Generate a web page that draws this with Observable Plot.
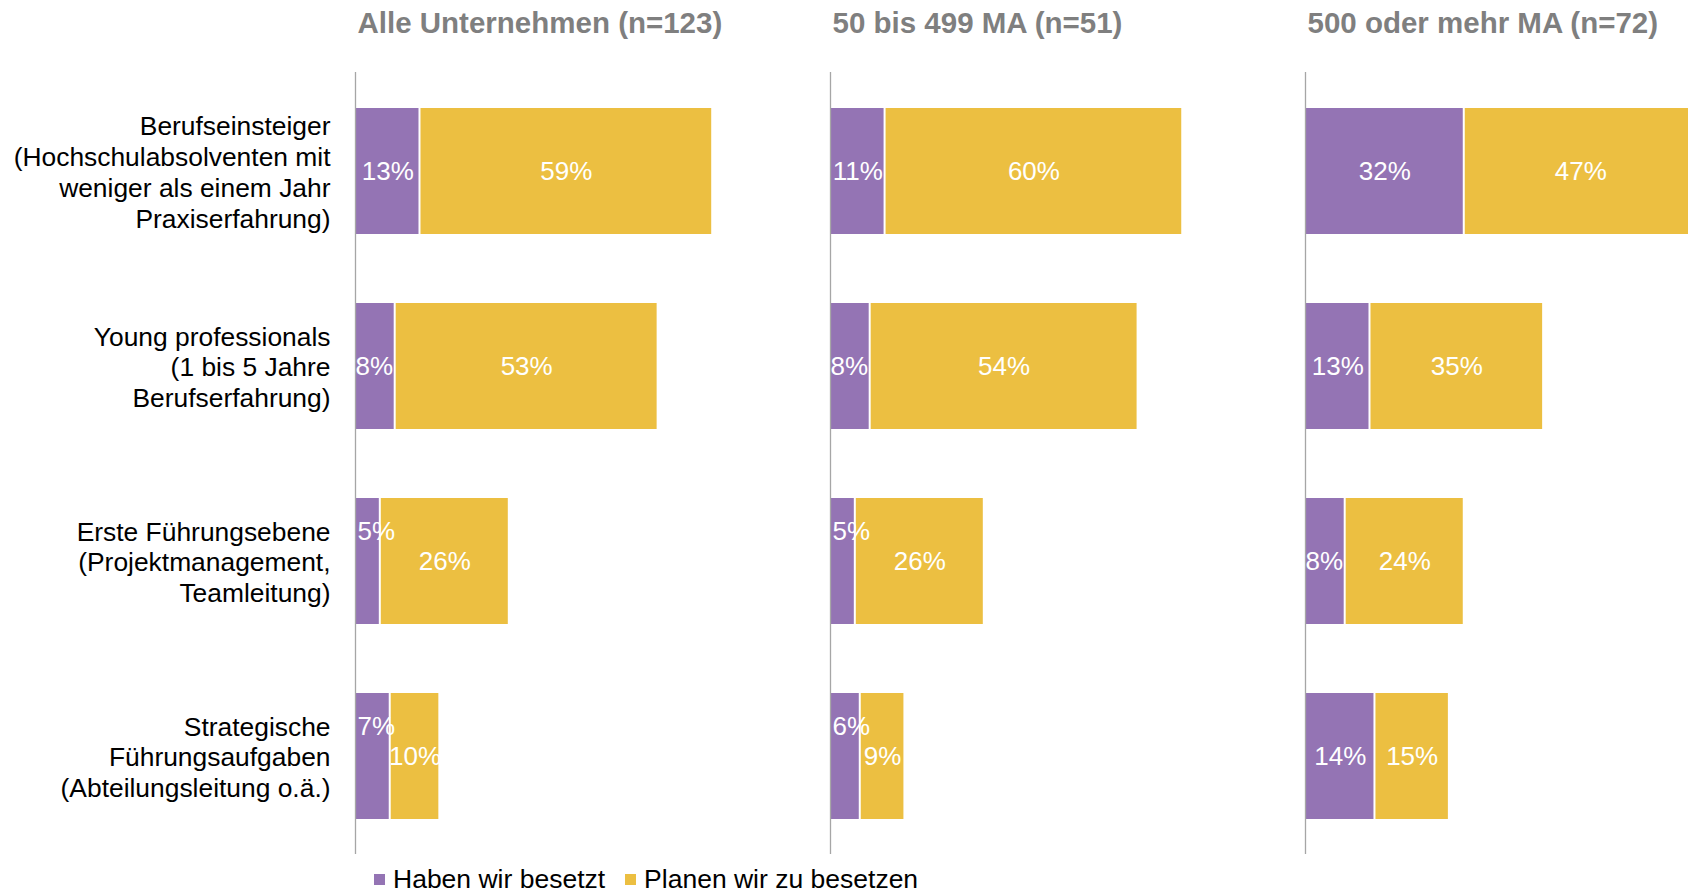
<!DOCTYPE html>
<html>
<head>
<meta charset="utf-8">
<script src="https://cdn.jsdelivr.net/npm/d3@7"></script>
<script src="https://cdn.jsdelivr.net/npm/@observablehq/plot@0.6"></script>
<style>
  html, body { margin: 0; padding: 0; background: #fff; overflow: hidden; }
  body { font-family: "Liberation Sans", Arial, sans-serif; }
  #legend { display: flex; align-items: center; margin-left: 374px; margin-top: 12px; height: 22px; line-height: 22px; font-size: 26.5px; color: #000; }
  #legend .item { display: flex; align-items: center; margin-right: 20px; }
  #legend .sw { width: 11px; height: 11px; margin-right: 8px; display: inline-block; }
</style>
</head>
<body>
<div id="chart"></div>
<div id="legend"></div>
<script>
const groups = ["Alle Unternehmen (n=123)", "50 bis 499 MA (n=51)", "500 oder mehr MA (n=72)"];
const categories = [
  "Berufseinsteiger\n(Hochschulabsolventen mit\nweniger als einem Jahr\nPraxiserfahrung)",
  "Young professionals\n(1 bis 5 Jahre\nBerufserfahrung)",
  "Erste Führungsebene\n(Projektmanagement,\nTeamleitung)",
  "Strategische\nFührungsaufgaben\n(Abteilungsleitung o.ä.)"
];
const seriesNames = ["Haben wir besetzt", "Planen wir zu besetzen"];
const seriesColors = ["#9474B4", "#ECBF41"];
// values per group, per category
const besetzt = [[13, 8, 5, 7], [11, 8, 5, 6], [32, 13, 8, 14]];
const planen  = [[59, 53, 26, 10], [60, 54, 26, 9], [47, 35, 24, 15]];

const rows = [];
groups.forEach((g, gi) => categories.forEach((c, ci) => {
  const a = besetzt[gi][ci], b = planen[gi][ci];
  rows.push({group: g, category: c, series: seriesNames[0], value: a, x1: 0, x2: a});
  rows.push({group: g, category: c, series: seriesNames[1], value: b, x1: a, x2: a + b});
}));

const isNarrow = d => d.series === seriesNames[0] && d.value <= 8;
const labelText = d => d.value + "%";

const plot = Plot.plot({
  width: 1688,
  height: 856,
  marginLeft: 355,
  marginRight: 0,
  marginTop: 72,
  marginBottom: 2,
  style: {fontFamily: "'Liberation Sans', Arial, sans-serif", background: "white", maxWidth: "none", overflow: "hidden"},
  fx: {domain: groups, paddingInner: 0.1937, paddingOuter: 0, axis: null},
  x: {domain: [0, 77.2], axis: null},
  y: {domain: categories, paddingInner: 0.355, paddingOuter: 0.1775},
  color: {domain: seriesNames, range: seriesColors},
  marks: [
    Plot.barX(rows, {fx: "group", y: "category", x1: "x1", x2: "x2", fill: "series", insetLeft: 1, insetRight: 1}),
    Plot.ruleX([0], {stroke: "#a6a6a6", strokeWidth: 1.3}),
    Plot.axisY({tickSize: 0, tickPadding: 25, fontSize: 26.4, lineHeight: 1.17, fill: "#000", label: null}),
    Plot.text(rows.filter(d => !isNarrow(d)), {fx: "group", y: "category", x: d => (d.x1 + d.x2) / 2, text: labelText, fill: "white", fontSize: 26}),
    Plot.text(rows.filter(d => isNarrow(d) && d.value >= 8), {fx: "group", y: "category", x: "x1", text: labelText, fill: "white", fontSize: 26, textAnchor: "start", dx: 0}),
    Plot.text(rows.filter(d => isNarrow(d) && d.value < 8), {fx: "group", y: "category", x: "x1", text: labelText, fill: "white", fontSize: 26, textAnchor: "start", dx: 2, dy: -30}),
    Plot.text(groups, {fx: d => d, text: d => d, frameAnchor: "top-left", textAnchor: "start", lineAnchor: "bottom", dx: 2, dy: -40, fontSize: 29.5, fontWeight: "bold", fill: "#7f7f7f"})
  ]
});
document.getElementById("chart").appendChild(plot);

const legend = document.getElementById("legend");
seriesNames.forEach((name, i) => {
  const item = document.createElement("div");
  item.className = "item";
  const sw = document.createElement("span");
  sw.className = "sw";
  sw.style.background = seriesColors[i];
  const t = document.createElement("span");
  t.textContent = name;
  item.appendChild(sw);
  item.appendChild(t);
  legend.appendChild(item);
});
</script>
</body>
</html>
